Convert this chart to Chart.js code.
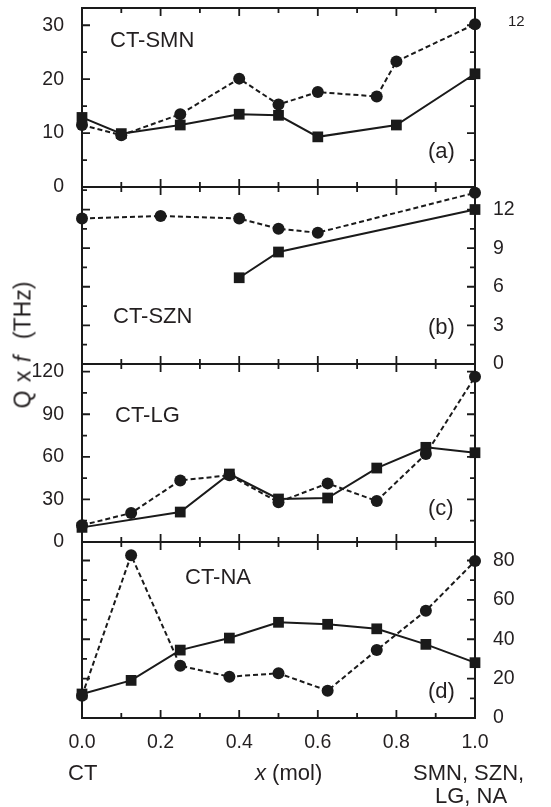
<!DOCTYPE html>
<html>
<head>
<meta charset="utf-8">
<script src="https://cdn.jsdelivr.net/npm/chart.js@4.4.1/dist/chart.umd.min.js"></script>
<style>
  html, body { margin: 0; padding: 0; background: #fff; }
  #wrap { position: relative; width: 551px; height: 807px; overflow: hidden;
          font-family: "Liberation Sans", Arial, sans-serif; color: #231f20; }
  #wrap canvas { position: absolute; left: 0; top: 0; }
  .t { position: absolute; font-size: 22px; line-height: 1; white-space: nowrap; }
  #ytitle { position: absolute; left: 23px; top: 345px; font-size: 23px; line-height: 1;
            word-spacing: 2px; white-space: nowrap;
            transform: translate(-50%, -50%) rotate(-90deg); }
</style>
</head>
<body>
<div id="wrap">
  <canvas id="pa" width="551" height="807"></canvas>
  <canvas id="pb" width="551" height="807"></canvas>
  <canvas id="pc" width="551" height="807"></canvas>
  <canvas id="pd" width="551" height="807"></canvas>

  <div class="t" style="left:110px;top:29.4px">CT-SMN</div>
  <div class="t" style="left:428px;top:140px">(a)</div>
  <div class="t" style="left:508px;top:12.7px;font-size:15px">12</div>
  <div class="t" style="left:113px;top:305.4px">CT-SZN</div>
  <div class="t" style="left:428px;top:316.4px">(b)</div>
  <div class="t" style="left:115px;top:404.4px">CT-LG</div>
  <div class="t" style="left:428px;top:497.4px">(c)</div>
  <div class="t" style="left:185px;top:566.4px">CT-NA</div>
  <div class="t" style="left:428px;top:680.4px">(d)</div>
  <div class="t" style="left:68px;top:762px">CT</div>
  <div class="t" style="left:255px;top:762px"><i>x</i> (mol)</div>
  <div class="t" style="left:413px;top:762px">SMN, SZN,</div>
  <div class="t" style="left:435px;top:785px">LG, NA</div>
  <div id="ytitle">Q x <i>f</i>&nbsp; (THz)</div>
</div>

<script>
// x (mol) tick labels, shared by all panels
const xTicks = [0, 0.2, 0.4, 0.6, 0.8, 1.0];

// (a) CT-SMN
const smnCircX = [0, 0.1, 0.25, 0.4, 0.5, 0.6, 0.75, 0.8, 1.0];
const smnCircY = [11.5, 9.6, 13.5, 20.1, 15.3, 17.6, 16.8, 23.3, 30.2];
const smnSqX   = [0, 0.1, 0.25, 0.4, 0.5, 0.6, 0.8, 1.0];
const smnSqY   = [12.9, 9.9, 11.5, 13.5, 13.3, 9.3, 11.5, 21.0];
const smnTicks = [0, 10, 20, 30];

// (b) CT-SZN
const sznCircX = [0, 0.2, 0.4, 0.5, 0.6, 1.0];
const sznCircY = [11.3, 11.5, 11.3, 10.5, 10.2, 13.3];
const sznSqX   = [0.4, 0.5, 1.0];
const sznSqY   = [6.7, 8.7, 12.0];
const sznTicks = [0, 3, 6, 9, 12];

// (c) CT-LG
const lgCircX = [0, 0.125, 0.25, 0.375, 0.5, 0.625, 0.75, 0.875, 1.0];
const lgCircY = [11.8, 20.4, 43.4, 47, 28, 41.3, 28.9, 62, 116.4];
const lgSqX   = [0, 0.25, 0.375, 0.5, 0.625, 0.75, 0.875, 1.0];
const lgSqY   = [10.3, 21.1, 47.9, 30.3, 31, 52.1, 66.7, 62.9];
const lgTicks = [0, 30, 60, 90, 120];

// (d) CT-NA
const naCircX = [0, 0.125, 0.25, 0.375, 0.5, 0.625, 0.75, 0.875, 1.0];
const naCircY = [11.3, 82.7, 26.5, 21, 22.7, 13.9, 34.5, 54.5, 79.7];
const naSqX   = [0, 0.125, 0.25, 0.375, 0.5, 0.625, 0.75, 0.875, 1.0];
const naSqY   = [12.2, 19.1, 34.5, 40.6, 48.6, 47.6, 45.3, 37.4, 28.1];
const naTicks = [0, 20, 40, 60, 80];

const INK = '#1a1a1a';
const TXT = '#231f20';
const W = 551, H = 807;
const LEFT_W = 82, RIGHT_W = 76;
const TICK_FONT = { family: 'Liberation Sans', size: 19.5 };

const pts = (xs, ys) => xs.map((x, i) => ({ x, y: ys[i] }));

// frame + inward ticks (minor and major)
const framePlugin = {
  id: 'frame',
  beforeDatasetsDraw(chart, args, opts) {
    const { ctx, chartArea: a, scales } = chart;
    const x = scales.x, y = scales.y;
    ctx.save();
    ctx.strokeStyle = INK;
    ctx.lineWidth = 1.8;
    ctx.beginPath();
    for (let i = 0; i <= 10; i++) {
      const px = x.getPixelForValue(i / 10);
      const len = i % 2 === 0 ? 8 : 5;
      ctx.moveTo(px, a.top); ctx.lineTo(px, a.top + len);
      ctx.moveTo(px, a.bottom); ctx.lineTo(px, a.bottom - len);
    }
    for (let i = 0; i * opts.minor <= y.max; i++) {
      const py = y.getPixelForValue(i * opts.minor);
      const len = i % 2 === 0 ? 8 : 5;
      ctx.moveTo(a.left, py); ctx.lineTo(a.left + len, py);
      ctx.moveTo(a.right, py); ctx.lineTo(a.right - len, py);
    }
    ctx.stroke();
    ctx.lineWidth = 2;
    ctx.strokeRect(a.left, a.top, a.right - a.left, a.bottom - a.top);
    ctx.restore();
  }
};

function panel(id, top, bottom, max, minor, leftTicks, rightTicks, circ, sq, showX) {
  const yAxis = (pos, ticks) => ({
    type: 'linear', position: pos, min: 0, max: max,
    grid: { display: false }, border: { display: false },
    afterBuildTicks: s => { s.ticks = ticks.map(v => ({ value: v })); },
    ticks: { display: ticks.length > 0, padding: 10, color: TXT, font: TICK_FONT },
    afterFit: s => {
      s.width = pos === 'left' ? LEFT_W : RIGHT_W;
      s.paddingTop = 0; s.paddingBottom = 0;
    }
  });
  new Chart(document.getElementById(id), {
    type: 'scatter',
    data: {
      datasets: [
        { data: circ, showLine: true, borderColor: INK, backgroundColor: INK,
          borderWidth: 2, borderDash: [5, 3], pointStyle: 'circle', pointRadius: 6,
          pointBorderWidth: 0, clip: false },
        { data: sq, showLine: true, borderColor: INK, backgroundColor: INK,
          borderWidth: 2, pointStyle: 'rect', pointRadius: 7.6,
          pointBorderWidth: 0, clip: false }
      ]
    },
    options: {
      responsive: false, animation: false, events: [],
      layout: { padding: { top: top, bottom: showX ? 0 : H - bottom, left: 0, right: 0 } },
      plugins: { legend: { display: false }, tooltip: { enabled: false },
                 frame: { minor: minor } },
      scales: {
        x: {
          type: 'linear', min: 0, max: 1, display: showX,
          grid: { display: false }, border: { display: false },
          afterBuildTicks: s => { s.ticks = xTicks.map(v => ({ value: v })); },
          ticks: { padding: 5, color: TXT, maxRotation: 0, font: TICK_FONT,
                   callback: v => Number(v).toFixed(1) },
          afterFit: s => {
            s.paddingLeft = 0; s.paddingRight = 0;
            if (showX) s.height = H - bottom;
          }
        },
        y: yAxis('left', leftTicks),
        y2: yAxis('right', rightTicks)
      }
    },
    plugins: [framePlugin]
  });
}

panel('pa', 8, 187, 33.2, 5, smnTicks, [], pts(smnCircX, smnCircY), pts(smnSqX, smnSqY), false);
panel('pb', 187, 364, 13.75, 1.5, [], sznTicks, pts(sznCircX, sznCircY), pts(sznSqX, sznSqY), false);
panel('pc', 364, 542, 125.4, 15, lgTicks, [], pts(lgCircX, lgCircY), pts(lgSqX, lgSqY), false);
panel('pd', 542, 718, 89.4, 10, [], naTicks, pts(naCircX, naCircY), pts(naSqX, naSqY), true);
</script>
</body>
</html>
